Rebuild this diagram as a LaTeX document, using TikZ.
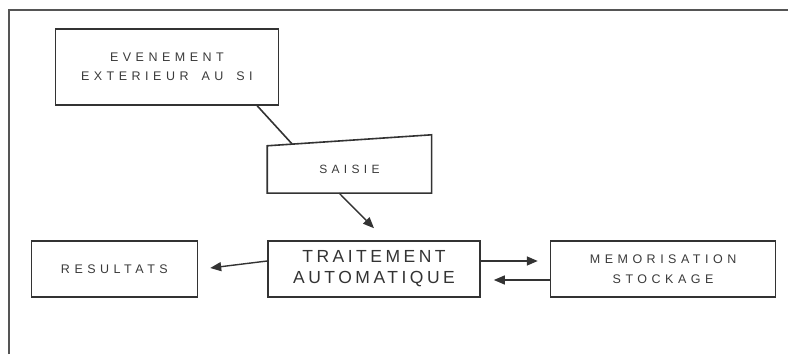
\documentclass[tikz,border=0pt]{standalone}
\usepackage{fontspec}
\newfontfamily\boxfont[LetterSpace=36]{Liberation Sans}
\newfontfamily\bigboxfont[LetterSpace=20]{Liberation Sans}
\usepackage{xcolor}
\definecolor{lineDark}{HTML}{333333}
\definecolor{textGrey}{HTML}{3A3A3A}
\definecolor{frameGrey}{HTML}{555555}
\usepackage{tikz}
\usetikzlibrary{positioning,calc,arrows.meta}
\tikzset{
  siBox/.style={
    rectangle,
    draw=lineDark,
    line width=1.6pt,
    inner sep=0pt,
    minimum height=56pt,
    align=center,
    text=textGrey,
    font=\boxfont\fontsize{12.5}{19.5}\selectfont
 },
  saisieBox/.style={
    rectangle,
    inner sep=0pt,
    minimum width=164pt,
    minimum height=47pt,
    align=center,
    text=textGrey,
    font=\boxfont\fontsize{12}{19}\selectfont
 },
  bigBox/.style={
    siBox,
    text=lineDark,
    font=\bigboxfont\fontsize{17.5}{21}\selectfont
 },
  plainLine/.style={
    line width=1.6pt,
    color=lineDark
 },
  arrowLine/.style={
    -{Triangle[length=11pt,width=9pt]},
    line width=1.4pt,
    color=lineDark
 }
}

\begin{document}
\begin{tikzpicture}
            \useasboundingbox (0,0) rectangle (788pt,354pt);
            \draw[frameGrey, line width=1.6pt] (9pt,0pt) -- (9pt,344pt) -- (788pt,344pt);

            \node[bigBox, minimum width=212pt] (trait) at (374pt,85pt) {TRAITEMENT\\AUTOMATIQUE};

            \node[siBox, minimum width=166pt, left=69pt of trait] (res) {RESULTATS};
            \node[siBox, minimum width=225pt, right=69pt of trait] (memo) {MEMORISATION\\STOCKAGE};

            \node[saisieBox, above=47pt of trait.north west, anchor=south west] (saisie) {SAISIE};
            \draw[plainLine] (saisie.south west) -- (saisie.south east)
                -- ($(saisie.north east)+(0,11pt)$) -- (saisie.north west) -- cycle;

            \node[siBox, minimum width=223pt, minimum height=76pt,
                  above=40pt of saisie.north west, anchor=south east, xshift=12pt]
                  (evt) {EVENEMENT\\EXTERIEUR\hspace{5pt} AU\hspace{5pt} SI};

            % free ends of the arrows
            \coordinate (saisieOut) at ($(saisie.south west)+(72pt,0)$);
            \coordinate (traitIn) at ($(trait.north)+(0,12pt)$);
            \coordinate (resIn) at ($(res.east)+(12pt,1pt)$);
            \coordinate (memoIn) at ($(memo.west)+(-12pt,8pt)$);
            \coordinate (traitBack) at ($(trait.east)+(13pt,-11pt)$);

            \draw[plainLine] ($(evt.south east)+(-22pt,0)$) -- ($(saisie.north west)+(25pt,1.7pt)$);
            \draw[arrowLine] (saisieOut) -- (traitIn);
            \draw[arrowLine] ($(trait.west)+(0,8pt)$) -- (resIn);
            \draw[arrowLine] ($(trait.east)+(0,8pt)$) -- (memoIn);
            \draw[arrowLine] ($(memo.west)+(0,-11pt)$) -- (traitBack);

        \end{tikzpicture}
\end{document}
